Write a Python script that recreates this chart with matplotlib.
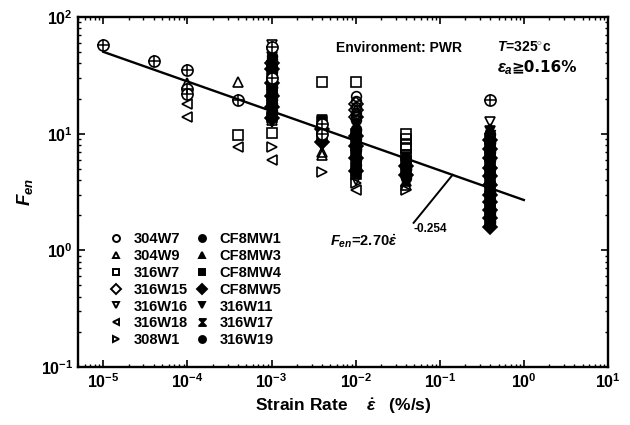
import matplotlib
matplotlib.use("Agg")
import matplotlib.pyplot as plt
from matplotlib.lines import Line2D
from matplotlib.ticker import NullFormatter
import numpy as np

plt.rcParams['font.family'] = ['Liberation Sans', 'DejaVu Sans']
plt.rcParams['font.weight'] = 'bold'
plt.rcParams['axes.labelweight'] = 'bold'
plt.rcParams['mathtext.fontset'] = 'custom'
plt.rcParams['mathtext.rm'] = 'Liberation Sans:bold'
plt.rcParams['mathtext.it'] = 'Liberation Sans:italic:bold'
plt.rcParams['mathtext.bf'] = 'Liberation Sans:bold'

# ---------------- data ----------------
# circle-with-cross points (unlabelled)
oplus_rate = [1e-5, 4e-5, 1e-4, 1e-4, 1e-4, 4e-4, 1e-3, 1e-3, 4e-3, 4e-3, 0.4]
oplus_fen = [57, 42, 35, 24, 22, 19.5, 55, 30, 12, 10, 19.5]

s304W7_rate = [1e-2, 1e-2, 1e-2, 1e-2, 1e-2, 1e-2, 1e-3, 1e-3, 1e-3]
s304W7_fen = [21, 19, 17, 15, 14, 13, 30, 25, 22]

s304W9_rate = [1e-4, 4e-4, 1e-3, 1e-3, 4e-3, 4e-3, 1e-2, 1e-2, 4e-2, 0.4]
s304W9_fen = [27, 27.5, 15, 13, 7, 6.5, 16, 11, 3.6, 11]

s316W7_rate = [4e-4, 1e-3, 4e-3, 1e-2, 4e-2, 4e-2, 4e-2, 4e-2, 4e-2]
s316W7_fen = [9.8, 10.2, 27.5, 27.5, 10, 9, 8, 7.5, 6.5]

s316W15_rate = [1e-2, 1e-2, 1e-2, 1e-3]
s316W15_fen = [18, 16, 14, 40]

s316W16_rate = [1e-3, 1e-3, 1e-3, 0.4, 1e-2]
s316W16_fen = [57, 50, 45, 12.5, 4.0]

s316W18_rate = [1e-4, 1e-4, 4e-4, 1e-3, 1e-2]
s316W18_fen = [18, 14, 7.7, 5.9, 3.3]

s308W1_rate = [1e-3, 4e-3, 1e-2, 4e-2]
s308W1_fen = [7.7, 4.7, 3.8, 3.3]

CF8MW1_rate = [1e-3]*6 + [4e-3]*2 + [1e-2]*5 + [4e-2]*3 + [0.4]*12
CF8MW1_fen = [44, 35, 28, 22, 18, 15, 12, 10, 11, 9, 7.5, 6, 5, 6, 5, 4.2,
              10, 8.5, 7.2, 6.1, 5.2, 4.4, 3.8, 3.2, 2.7, 2.3, 2.0, 1.7]

CF8MW3_rate = [1e-3]*5 + [4e-3]*2 + [1e-2]*4 + [4e-2]*3 + [0.4]*11
CF8MW3_fen = [40, 32, 26, 20, 16, 11.5, 9, 10.5, 8.5, 6.8, 5.5, 5.6, 4.6, 3.9,
              9.5, 8, 6.7, 5.6, 4.8, 4.1, 3.5, 2.9, 2.5, 2.1, 1.8]

CF8MW4_rate = [1e-3]*5 + [4e-3]*2 + [1e-2]*5 + [4e-2]*2 + [0.4]*11
CF8MW4_fen = [38, 30, 24, 19, 14, 12.5, 9.5, 10, 8, 6.5, 5.2, 4.5, 5.8, 4.8,
              9, 7.6, 6.4, 5.4, 4.6, 3.9, 3.3, 2.8, 2.4, 2.05, 1.75]

CF8MW5_rate = [1e-3]*5 + [4e-3]*2 + [1e-2]*4 + [4e-2]*2 + [0.4]*11
CF8MW5_fen = [36, 27, 21, 17, 13.5, 11, 8.5, 9.5, 7.8, 6.2, 4.8, 5.3, 4.4,
              8.8, 7.4, 6.2, 5.1, 4.3, 3.6, 3.0, 2.6, 2.2, 1.9, 1.6]

s316W11_rate = [1e-3]*5 + [4e-3]*2 + [1e-2]*4 + [4e-2]*2 + [0.4]*10
s316W11_fen = [48, 33, 23, 17.5, 12.5, 13, 8, 12, 8.8, 7, 5.8, 6.3, 4,
               10.5, 9.2, 7, 5.8, 4.9, 4.2, 3.4, 2.7, 2.2, 1.85]

s316W17_rate = [1e-3]*4 + [1e-2]*2 + [0.4]*10
s316W17_fen = [42, 29, 21.5, 16.5, 9.2, 6.7,
               9.8, 8.2, 6.9, 5.7, 4.7, 4.0, 3.4, 2.85, 2.35, 1.95]

s316W19_rate = [1e-3]*5 + [4e-3] + [1e-2]*3 + [4e-2]*2 + [0.4]*10
s316W19_fen = [46, 34, 25, 20, 15.5, 10.5, 10.8, 7.2, 5.4, 5, 4.3,
               8.3, 7, 5.9, 5, 4.5, 3.7, 3.1, 2.6, 2.15, 1.8]

fit_A = 2.70
fit_n = -0.254
fit_range = [1e-5, 1.0]

x_major = [1e-5, 1e-4, 1e-3, 1e-2, 1e-1, 1e0, 1e1]
y_major = [1e-1, 1e0, 1e1, 1e2]

# ---------------- plot ----------------
hourglass = [(-1, 1), (1, 1), (-1, -1), (1, -1), (-1, 1)]

series = [
    ('304W7', s304W7_rate, s304W7_fen, 'o', False),
    ('304W9', s304W9_rate, s304W9_fen, '^', False),
    ('316W7', s316W7_rate, s316W7_fen, 's', False),
    ('316W15', s316W15_rate, s316W15_fen, 'D', False),
    ('316W16', s316W16_rate, s316W16_fen, 'v', False),
    ('316W18', s316W18_rate, s316W18_fen, '<', False),
    ('308W1', s308W1_rate, s308W1_fen, '>', False),
    ('CF8MW1', CF8MW1_rate, CF8MW1_fen, 'o', True),
    ('CF8MW3', CF8MW3_rate, CF8MW3_fen, '^', True),
    ('CF8MW4', CF8MW4_rate, CF8MW4_fen, 's', True),
    ('CF8MW5', CF8MW5_rate, CF8MW5_fen, 'D', True),
    ('316W11', s316W11_rate, s316W11_fen, 'v', True),
    ('316W17', s316W17_rate, s316W17_fen, hourglass, True),
    ('316W19', s316W19_rate, s316W19_fen, 'o', True),
]

fig = plt.figure(figsize=(6.3, 4.25), dpi=100)
ax = fig.add_axes([0.1238, 0.1365, 0.8412, 0.8235])
ax.set_xscale('log')
ax.set_yscale('log')

ms = 7
handles = []
for name, xr, yf, mk, filled in series:
    fc = 'black' if filled else 'none'
    ax.plot(xr, yf, linestyle='none', marker=mk, markersize=ms,
            markerfacecolor=fc, markeredgecolor='black', markeredgewidth=1.2)
    handles.append(Line2D([], [], linestyle='none', marker=mk, markersize=5,
                          markerfacecolor=fc, markeredgecolor='black',
                          markeredgewidth=1.4, label=name))

ax.plot(oplus_rate, oplus_fen, linestyle='none', marker='o', markersize=ms + 1,
        markerfacecolor='white', markeredgecolor='black', markeredgewidth=1.2)
ax.plot(oplus_rate, oplus_fen, linestyle='none', marker='+', markersize=ms + 1,
        markeredgecolor='black', markeredgewidth=1.1)

xf = np.array(fit_range)
ax.plot(xf, fit_A * xf ** fit_n, color='black', linewidth=1.7)

# annotation of the fit
ax.plot([0.0489, 0.142], [1.72, 4.43], color='black', linewidth=1.4)
ax.text(5.0e-3, 1.20, r'$F_{en}$=2.70$\dot{\varepsilon}$',
        fontsize=10.5, va='center', ha='left')
ax.text(0.049, 1.52, '-0.254', fontsize=8.5, va='center', ha='left')

ax.text(0.606, 0.912, 'Environment: PWR', transform=ax.transAxes,
        fontsize=10, ha='center', va='center')
ax.text(0.79, 0.912, r'$T$=325$^{\circ}$c', transform=ax.transAxes,
        fontsize=10, ha='left', va='center')
ax.text(0.79, 0.852, r'$\varepsilon_a$', transform=ax.transAxes,
        fontsize=12, ha='left', va='center')
ax.text(0.818, 0.857, '≧0.16%', transform=ax.transAxes,
        fontsize=11, ha='left', va='center', family=['DejaVu Sans'],
        weight='bold')

leg = ax.legend(handles=handles, ncol=2, frameon=False, fontsize=10.5,
                loc='upper left', bbox_to_anchor=(0.058, 0.386),
                handlelength=1.0, handletextpad=0.7, columnspacing=0.5,
                labelspacing=0.2, borderaxespad=0, borderpad=0)

# ticks restricted to the visible range
ax.set_xticks(x_major)
ax.set_yticks(y_major)
x_minor = [m * d for d in x_major[:-1] for m in range(2, 10)]
x_minor = [v for v in x_minor if v >= 5e-6]
x_minor = [5e-6, 6e-6, 7e-6, 8e-6, 9e-6] + x_minor
y_minor = [m * d for d in y_major[:-1] for m in range(2, 10)]
ax.set_xticks(x_minor, minor=True)
ax.set_yticks(y_minor, minor=True)
ax.xaxis.set_minor_formatter(NullFormatter())
ax.yaxis.set_minor_formatter(NullFormatter())
ax.set_xlim(5e-6, 10)
ax.set_ylim(0.1, 100)

ax.tick_params(which='both', direction='in', top=True, right=True)
ax.tick_params(which='major', length=5, width=1.2, labelsize=11.5)
ax.tick_params(which='minor', length=2.5, width=1.0)
for sp in ax.spines.values():
    sp.set_linewidth(1.7)

ax.set_xlabel(r'Strain Rate    $\dot{\varepsilon}$   (%/s)', fontsize=12.5)
ax.set_ylabel(r'$F_{en}$', fontsize=13.5)

fig.savefig('out.png', dpi=100)
